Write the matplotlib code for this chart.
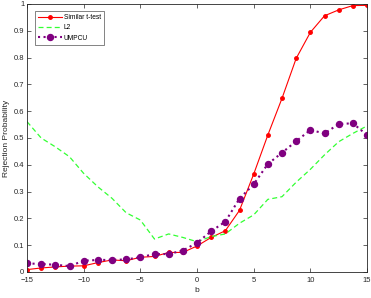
import numpy as np
import matplotlib.pyplot as plt

plt.rcParams['font.family'] = ['Liberation Sans', 'DejaVu Sans']

b = np.arange(-15, 15.01, 1.25)

ttest = [0.009, 0.015, 0.019, 0.022, 0.023, 0.035, 0.045, 0.042, 0.055, 0.058,
         0.073, 0.073, 0.097, 0.129, 0.154, 0.23, 0.365, 0.511, 0.648, 0.797,
         0.894, 0.956, 0.978, 0.994, 0.995]
l2 = [0.561, 0.50, 0.467, 0.43, 0.368, 0.318, 0.275, 0.221, 0.194, 0.123,
      0.142, 0.129, 0.113, 0.132, 0.142, 0.182, 0.213, 0.271, 0.281, 0.335,
      0.383, 0.437, 0.486, 0.517, 0.545]
umpcu = [0.032, 0.030, 0.027, 0.022, 0.042, 0.045, 0.045, 0.047, 0.055, 0.067,
         0.067, 0.080, 0.109, 0.152, 0.188, 0.274, 0.327, 0.403, 0.445, 0.488,
         0.530, 0.517, 0.552, 0.555, 0.511]

fig = plt.figure(figsize=(3.71, 2.98), dpi=100)
ax = fig.add_axes([27/371, 1 - 272/298, 340/371, 268/298])

ax.plot(b, ttest, '-', color='red', lw=0.8, marker='o', ms=2.5, label='Similar t-test')
ax.plot(b, l2, '--', color='#33ff33', lw=0.9, dashes=(4, 2.5), label='L2')
ax.plot(b, umpcu, ':', color='purple', lw=1.5, marker='o', ms=4.3, label='UMPCU')

ax.set_xlim(-15, 15)
ax.set_ylim(0, 1)
ax.set_xticks(np.arange(-15, 16, 5))
ax.set_yticks(np.arange(0, 1.01, 0.1))
ax.set_yticklabels(['0', '0.1', '0.2', '0.3', '0.4', '0.5', '0.6', '0.7', '0.8', '0.9', '1'])
ax.tick_params(direction='in', top=True, right=True, labelsize=5.5, length=3,
               width=0.5, colors='#262626', pad=2)
ax.tick_params(axis='x', pad=3.5)
for s in ax.spines.values():
    s.set_linewidth(0.6)
    s.set_color('#262626')

ax.set_xlabel('b', fontsize=6, color='#262626', labelpad=2)
ax.set_ylabel('Rejection Probability', fontsize=6, color='#262626', labelpad=3)

leg = ax.legend(loc='upper left', fontsize=4.8, frameon=True, fancybox=False,
                edgecolor='#262626', handlelength=3.6, borderpad=0.45,
                labelspacing=0.5, handletextpad=0.3, borderaxespad=0,
                bbox_to_anchor=(0.0235, 0.974))
leg.get_frame().set_linewidth(0.5)

fig.savefig('out.png', dpi=100)
